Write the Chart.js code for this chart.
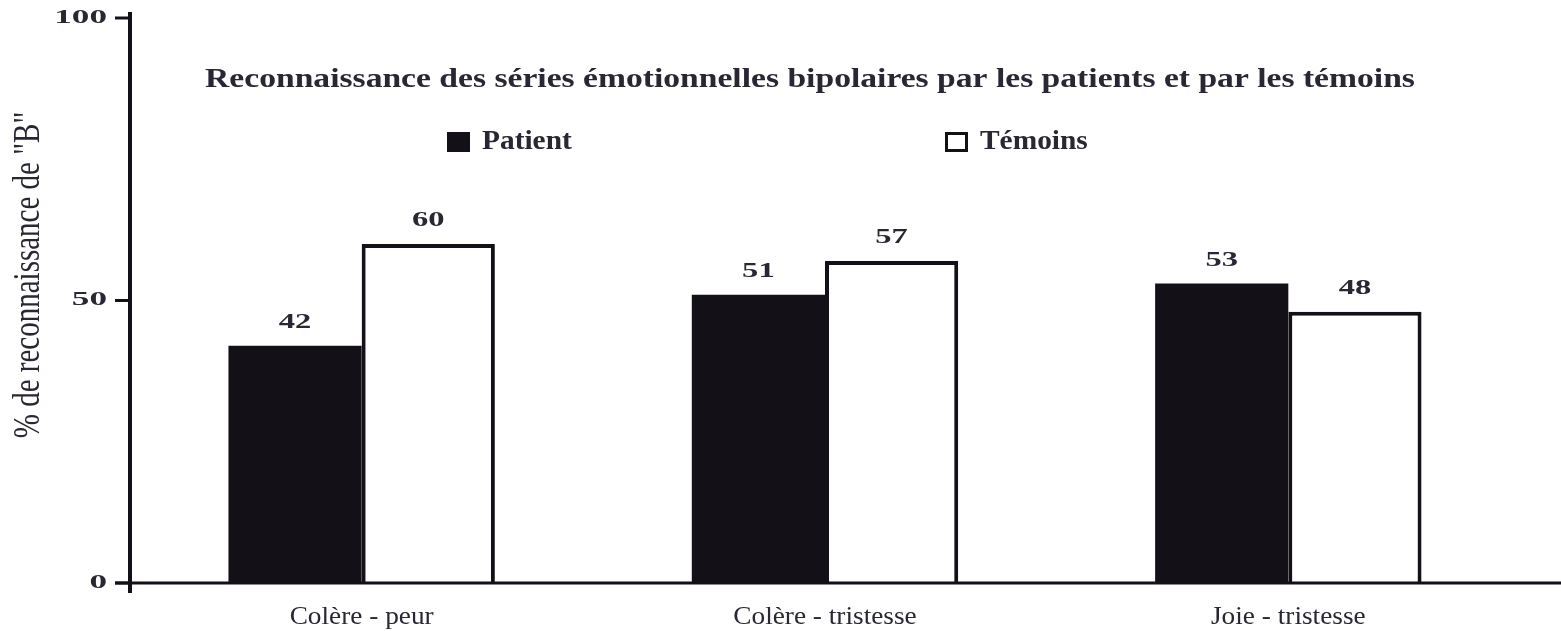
<!DOCTYPE html>
<html>
<head>
<meta charset="utf-8">
<script src="https://cdn.jsdelivr.net/npm/chart.js@4.4.1/dist/chart.umd.min.js"></script>
<style>
  html, body { margin: 0; padding: 0; background: #fff; }
  #chart { display: block; }
</style>
</head>
<body>
<canvas id="chart" width="1561" height="631"></canvas>
<script>
const categories = ['Colère - peur', 'Colère - tristesse', 'Joie - tristesse'];
const seriesNames = ['Patient', 'Témoins'];
const patientValues = [42, 51, 53];
const temoinValues = [60, 57, 48];
const yTicks = [0, 50, 100];
const chartTitle = 'Reconnaissance des séries émotionnelles bipolaires par les patients et par les témoins';
const yTitle = '% de reconnaissance de "B"';

const INK = '#141018';
const TEXT = '#2a2633';
const SERIF = '"Liberation Serif", "Times New Roman", serif';

// text is drawn a bit wider than the font, like the printed figure
function wideText(ctx, text, x, y, size, sx, align, weight) {
  ctx.save();
  ctx.font = (weight || 'normal') + ' ' + size + 'px ' + SERIF;
  ctx.fillStyle = TEXT;
  ctx.textBaseline = 'middle';
  const w = ctx.measureText(text).width * sx;
  let x0 = x;
  if (align === 'center') x0 = x - w / 2;
  else if (align === 'right') x0 = x - w;
  ctx.translate(x0, y);
  ctx.scale(sx, 1);
  ctx.textAlign = 'left';
  ctx.fillText(text, 0, 0);
  ctx.restore();
}

const decorations = {
  id: 'decorations',
  afterDatasetsDraw(chart) {
    const ctx = chart.ctx;
    const area = chart.chartArea;
    const xs = chart.scales.x;
    const ys = chart.scales.y;

    ctx.save();
    ctx.strokeStyle = INK;
    ctx.lineCap = 'butt';

    // x axis runs out to the right edge
    ctx.lineWidth = 3;
    ctx.beginPath();
    ctx.moveTo(area.left - 15, area.bottom);
    ctx.lineTo(chart.width, area.bottom);
    ctx.stroke();

    // y axis with ticks pointing left
    ctx.lineWidth = 4;
    ctx.beginPath();
    ctx.moveTo(area.left, area.top - 6);
    ctx.lineTo(area.left, area.bottom + 10);
    ctx.stroke();
    ctx.lineWidth = 3;
    yTicks.forEach(v => {
      const py = ys.getPixelForValue(v);
      ctx.beginPath();
      ctx.moveTo(area.left - 15, py);
      ctx.lineTo(area.left, py);
      ctx.stroke();
      wideText(ctx, String(v), area.left - 23, py, 19, 1.85, 'right', 'bold');
    });
    ctx.restore();

    // y axis title, rotated
    ctx.save();
    ctx.translate(29, 275);
    ctx.scale(1.3, 1);
    ctx.rotate(-Math.PI / 2);
    ctx.font = '29px ' + SERIF;
    ctx.fillStyle = TEXT;
    ctx.textAlign = 'center';
    ctx.textBaseline = 'middle';
    ctx.fillText(yTitle, 0, 0);
    ctx.restore();

    // category labels
    categories.forEach((c, i) => {
      wideText(ctx, c, xs.getPixelForValue(i), 617, 26, 1.05, 'center');
    });

    // value labels above each bar
    chart.data.datasets.forEach((ds, di) => {
      chart.getDatasetMeta(di).data.forEach((el, i) => {
        wideText(ctx, String(ds.data[i]), el.x, el.y - 23, 21, 1.55, 'center', 'bold');
      });
    });

    // title
    wideText(ctx, chartTitle, 810, 80, 28, 1.2, 'center', 'bold');

    // legend
    const legendX = [447, 945];
    chart.data.datasets.forEach((ds, di) => {
      const lx = legendX[di];
      ctx.save();
      ctx.fillStyle = ds.backgroundColor;
      ctx.fillRect(lx, 132, 23, 20);
      ctx.strokeStyle = INK;
      ctx.lineWidth = 3;
      ctx.strokeRect(lx + 1.5, 133.5, 20, 17);
      ctx.restore();
      wideText(ctx, ds.label, lx + 35, 142, 28, 1.05, 'left', 'bold');
    });
  }
};

new Chart(document.getElementById('chart'), {
  type: 'bar',
  data: {
    labels: categories,
    datasets: [
      {
        label: seriesNames[0],
        data: patientValues,
        backgroundColor: INK,
        borderColor: INK,
        borderWidth: 0,
        barPercentage: 1,
        categoryPercentage: 0.575
      },
      {
        label: seriesNames[1],
        data: temoinValues,
        backgroundColor: '#ffffff',
        borderColor: INK,
        borderWidth: 4,
        barPercentage: 1,
        categoryPercentage: 0.575
      }
    ]
  },
  options: {
    responsive: false,
    devicePixelRatio: 1,
    animation: false,
    layout: { padding: { top: 18, right: 41, bottom: 0, left: 0 } },
    plugins: {
      legend: { display: false },
      title: { display: false },
      tooltip: { enabled: false }
    },
    scales: {
      x: {
        offset: true,
        grid: { display: false, drawTicks: false },
        border: { display: false },
        ticks: { display: false },
        afterFit: s => { s.height = 48; }
      },
      y: {
        min: 0,
        max: 100,
        grid: { display: false, drawTicks: false },
        border: { display: false },
        ticks: { display: false },
        afterFit: s => { s.width = 130; }
      }
    }
  },
  plugins: [decorations]
});
</script>
</body>
</html>
